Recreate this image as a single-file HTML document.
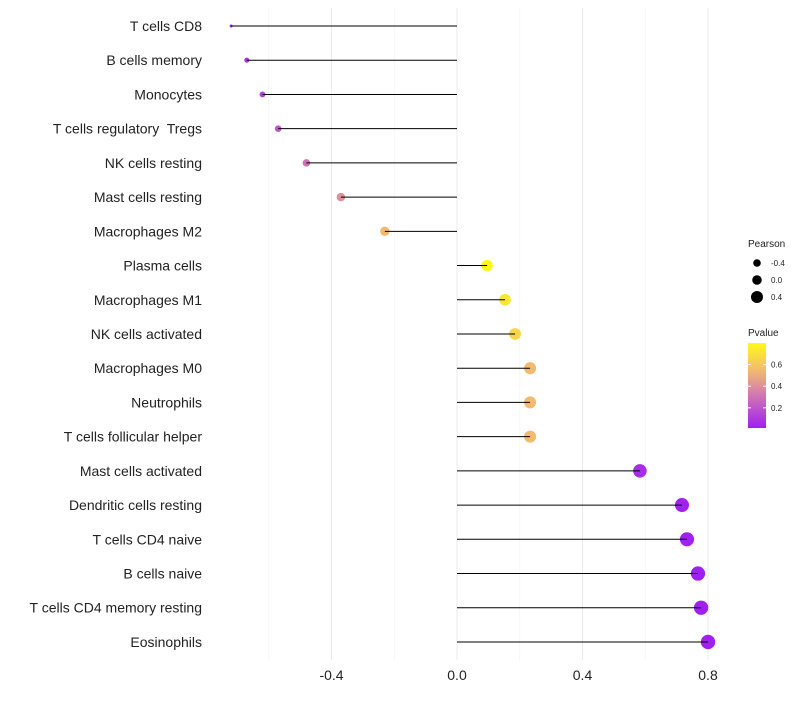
<!DOCTYPE html>
<html><head><meta charset="utf-8"><style>body{margin:0;background:#fff}svg{font-family:"Liberation Sans",sans-serif}</style></head>
<body>
<svg id="c" width="800" height="700"></svg>
<script>
const categories=["T cells CD8","B cells memory","Monocytes","T cells regulatory  Tregs","NK cells resting","Mast cells resting","Macrophages M2","Plasma cells","Macrophages M1","NK cells activated","Macrophages M0","Neutrophils","T cells follicular helper","Mast cells activated","Dendritic cells resting","T cells CD4 naive","B cells naive","T cells CD4 memory resting","Eosinophils"];
const pearson=[-0.72,-0.67,-0.62,-0.57,-0.48,-0.37,-0.23,0.096,0.153,0.185,0.233,0.233,0.233,0.583,0.717,0.733,0.768,0.778,0.8];
const pvalue=[0.03,0.08,0.13,0.2,0.3,0.4,0.55,0.8,0.72,0.66,0.55,0.55,0.55,0.06,0.02,0.015,0.01,0.01,0.01];
const xTicks=[-0.4,0,0.4,0.8];
const xTickLabels=["-0.4","0.0","0.4","0.8"];
const xMinor=[-0.6,-0.2,0.2,0.6];
const sizeLegend=[-0.4,0.0,0.4];
const pTicks=[0.2,0.4,0.6];
const NS="http://www.w3.org/2000/svg",svg=document.getElementById('c');
const x=v=>457+v*313.75, y=i=>26+i*34.22;
const rad=v=>1.5+5.7*Math.sqrt(Math.max(0,(v+0.72)/1.52));
const stops=[[0,[160,32,240]],[0.35,[205,110,185]],[0.65,[240,180,120]],[1,[255,250,20]]];
function col(p){let t=Math.max(0,Math.min(1,(p-0.013)/(0.8-0.013)));for(let k=1;k<stops.length;k++){if(t<=stops[k][0]){const a=stops[k-1],b=stops[k],f=(t-a[0])/(b[0]-a[0]);return 'rgb('+a[1].map((c,j)=>Math.round(c+(b[1][j]-c)*f)).join(',')+')';}}return 'rgb(255,250,20)';}
function el(t,a,txt){const e=document.createElementNS(NS,t);for(const k in a)e.setAttribute(k,a[k]);if(txt!=null)e.textContent=txt;svg.appendChild(e);return e;}
xMinor.forEach(v=>{const g=el('line',{x1:x(v),x2:x(v),y1:8,y2:660,stroke:'#f3f3f3','stroke-width':0.6});

});
xTicks.forEach((v,i)=>{const g=el('line',{x1:x(v),x2:x(v),y1:8,y2:660,stroke:'#ebebeb','stroke-width':1});


const t=el('text',{x:x(v),y:680,'text-anchor':'middle','font-size':14,fill:'#222'},xTickLabels[i]);

});
categories.forEach((c,i)=>{const t=el('text',{x:202,y:y(i)+5,'text-anchor':'end','font-size':14,fill:'#222','xml:space':'preserve',style:'white-space:pre'},c);


const d=el('circle',{cx:x(pearson[i]),cy:y(i),r:rad(pearson[i]),fill:col(pvalue[i])});


const l=el('line',{x1:x(0),x2:x(pearson[i]),y1:y(i),y2:y(i),stroke:'#000','stroke-width':1});

});
let t=el('text',{x:748,y:247,'font-size':10,fill:'#222'},'Pearson');


sizeLegend.forEach((v,i)=>{const cy=263+i*17;const c=el('circle',{cx:757,cy:cy,r:[3.8,4.8,6][i],fill:'#000'});


const tt=el('text',{x:771,y:cy+3,'font-size':8,fill:'#222'},['-0.4','0.0','0.4'][i]);

});
t=el('text',{x:748,y:336,'font-size':10,fill:'#222'},'Pvalue');


const defs=el('defs',{});const lg=document.createElementNS(NS,'linearGradient');lg.setAttribute('id','pg');lg.setAttribute('x1',0);lg.setAttribute('y1',1);lg.setAttribute('x2',0);lg.setAttribute('y2',0);defs.appendChild(lg);
for(let k=0;k<=10;k++){const s=document.createElementNS(NS,'stop');s.setAttribute('offset',k/10);s.setAttribute('stop-color',col(0.013+k/10*(0.8-0.013)));lg.appendChild(s);}
const bar=el('rect',{x:748,y:343,width:18,height:85,fill:'url(#pg)'});


pTicks.forEach(p=>{const yy=428-(p-0.013)/(0.8-0.013)*85;el('line',{x1:748,x2:751,y1:yy,y2:yy,stroke:'#fff'});el('line',{x1:763,x2:766,y1:yy,y2:yy,stroke:'#fff'});
const tt=el('text',{x:771,y:yy+3,'font-size':8,fill:'#222'},p.toFixed(1));

});
</script>
</body></html>
